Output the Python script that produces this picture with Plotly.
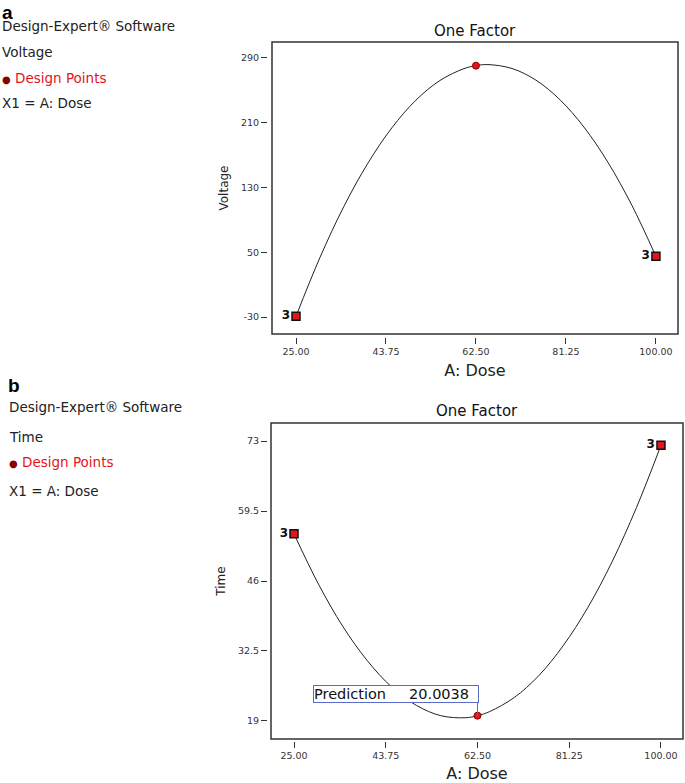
import plotly.graph_objects as go

# design points
dose_pts = [25.0, 62.5, 100.0]
voltage_pts = [-29, 280.5, 45]
time_pts = [55.1, 20.0, 72.2]
reps = ["3", "", "3"]

# fitted curves
dose_curve = [25, 30, 35, 40, 45, 50, 55, 60, 62.5, 65, 70, 75, 80, 85, 90, 95, 100]
voltage_curve = [-29, 43.7, 106.9, 160.2, 203.9, 237.9, 262.2, 276.8, 280.5, 281.8,
                 277.0, 262.6, 238.4, 204.6, 161.1, 107.9, 45]
time_curve = [55.1, 45.4, 37.2, 30.6, 25.5, 22.0, 20.0, 19.6, 20.0, 20.8,
              23.5, 27.7, 33.5, 40.8, 49.7, 60.2, 72.2]

x_ticks = [25, 43.75, 62.5, 81.25, 100]
x_ticktext = ["25.00", "43.75", "62.50", "81.25", "100.00"]
v_ticks = [-30, 50, 130, 210, 290]
v_ticktext = ["-30", "50", "130", "210", "290"]
t_ticks = [19, 32.5, 46, 59.5, 73]
t_ticktext = ["19", "32.5", "46", "59.5", "73"]

FONT = "DejaVu Sans, Arial, sans-serif"
W, H = 685, 783
RED = "#e3141c"

def px_x(p):
    return p / W

def px_y(p):
    return 1 - p / H

fig = go.Figure()

panels = [
    dict(xa="x", ya="y", yv=voltage_curve, pts=voltage_pts),
    dict(xa="x2", ya="y2", yv=time_curve, pts=time_pts),
]
for p in panels:
    fig.add_trace(go.Scatter(x=dose_curve, y=p["yv"], mode="lines", line_shape="spline",
                             line=dict(color="#222", width=1), xaxis=p["xa"], yaxis=p["ya"],
                             hoverinfo="skip"))
    fig.add_trace(go.Scatter(x=[dose_pts[0], dose_pts[2]], y=[p["pts"][0], p["pts"][2]],
                             mode="markers+text", text=[reps[0], reps[2]],
                             textposition="middle left",
                             textfont=dict(family=FONT, size=12, color="#111", weight="bold"),
                             marker=dict(symbol="square", size=8, color=RED,
                                         line=dict(color="#111", width=1.5)),
                             xaxis=p["xa"], yaxis=p["ya"]))
    fig.add_trace(go.Scatter(x=[dose_pts[1]], y=[p["pts"][1]], mode="markers",
                             marker=dict(symbol="circle", size=7, color=RED,
                                         line=dict(color="#8a0000", width=1)),
                             xaxis=p["xa"], yaxis=p["ya"]))

tickfont = dict(family=FONT, size=9.5, color="#333")
axis_common = dict(showgrid=False, zeroline=False, showline=False, ticks="outside",
                   ticklen=6, tickwidth=1, tickcolor="#333", tickfont=tickfont,
                   automargin=False)
xtitle = dict(text="A: Dose", font=dict(family=FONT, size=16, color="#222"), standoff=8)

fig.update_layout(
    width=W, height=H, margin=dict(l=0, r=0, t=0, b=0),
    paper_bgcolor="white", plot_bgcolor="white", showlegend=False,
    xaxis=dict(axis_common, domain=[px_x(272), px_x(678)], range=[20, 104.6],
               anchor="free", position=px_y(337), tickvals=x_ticks, ticktext=x_ticktext,
               title=xtitle),
    yaxis=dict(axis_common, domain=[px_y(334), px_y(42)], range=[-50.9, 309.7],
               anchor="free", position=px_x(267), tickvals=v_ticks, ticktext=v_ticktext,
               title=dict(text="Voltage", font=dict(family=FONT, size=12, color="#222"), standoff=8)),
    xaxis2=dict(axis_common, domain=[px_x(271), px_x(683)], range=[20.3, 104.5],
                anchor="free", position=px_y(741), tickvals=x_ticks, ticktext=x_ticktext,
                title=xtitle),
    yaxis2=dict(axis_common, domain=[px_y(739), px_y(423)], range=[15.5, 76.5],
                anchor="free", position=px_x(267), tickvals=t_ticks, ticktext=t_ticktext,
                title=dict(text="Time", font=dict(family=FONT, size=12, color="#222"), standoff=8)),
)

# frames
for xr, yr in [("x domain", "y domain"), ("x2 domain", "y2 domain")]:
    fig.add_shape(type="rect", xref=xr, yref=yr, x0=0, x1=1, y0=0, y1=1,
                  line=dict(color="#333", width=1.5))

# panel titles
for cx, cy in [((272 + 678) / 2, 31), ((271 + 683) / 2, 411)]:
    fig.add_annotation(x=px_x(cx), y=px_y(cy), xref="paper", yref="paper", text="One Factor",
                       showarrow=False, xanchor="center", yanchor="middle",
                       font=dict(family=FONT, size=15, color="#111"))

# side texts
def side(x0, ylab_top, label, resp, ys):
    fig.add_annotation(x=px_x(max(x0 - 1, 0)), y=px_y(ylab_top), xref="paper", yref="paper",
                       text="<b>" + label + "</b>",
                       showarrow=False, xanchor="left", yanchor="top",
                       font=dict(family="Arial, Liberation Sans, sans-serif", size=19, color="#000"))
    rows = [("Design-Expert® Software", "#222"),
            (resp, "#222"),
            ("<span style='color:#8a0000;font-size:10px'>●</span> Design Points", RED),
            ("X1 = A: Dose", "#222")]
    for (txt, col), yy in zip(rows, ys):
        fig.add_annotation(x=px_x(x0), y=px_y(yy), xref="paper", yref="paper", text=txt,
                           showarrow=False, xanchor="left", yanchor="middle",
                           font=dict(family=FONT, size=13.5, color=col))

side(0, 0, "a", "Voltage", [26, 52, 78, 103])
side(7, 373, "b", "Time", [407, 437, 462, 491])

# prediction flag
fig.add_shape(type="line", xref="x2", yref="y2", x0=62.5, x1=62.5, y0=20.0, y1=22.8,
              line=dict(color="#5a6ac8", width=1))
fig.add_annotation(x=62.9, y=24.1, xref="x2", yref="y2", showarrow=False,
                   text="Prediction&nbsp;&nbsp;&nbsp;&nbsp;&nbsp;20.0038&nbsp;&nbsp;",
                   xanchor="right", yanchor="middle", bgcolor="white",
                   bordercolor="#5a6ac8", borderwidth=1, borderpad=0,
                   font=dict(family=FONT, size=14.5, color="#111"))

fig.write_html("out.html", config={"displayModeBar": False},
               post_script="document.body.style.margin='0';document.body.style.overflow='hidden';")
